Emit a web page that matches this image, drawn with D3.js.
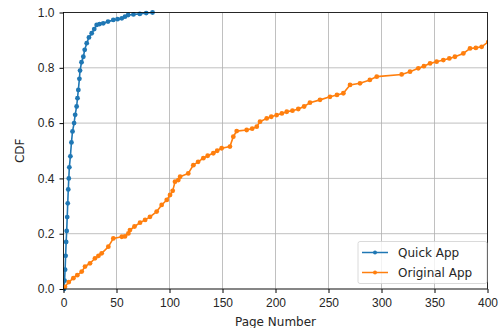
<!DOCTYPE html>
<html lang="en">
<head>
    <meta charset="UTF-8">
    <title>Page Number CDF</title>
    <script src="https://d3js.org/d3.v7.min.js"></script>
    <style>
        body {
            margin: 0;
            padding: 0;
            background: #fff;
            font-family: "DejaVu Sans", sans-serif;
        }
        .grid line {
            stroke: #b0b0b0;
            stroke-width: 0.8px;
        }
        .axis text {
            font-size: 12px;
            fill: #262626;
        }
        .axis path, .axis line {
            stroke: #000;
        }
    </style>
</head>
<body>
<script>
    // values
    const xTicks = [0, 50, 100, 150, 200, 250, 300, 350, 400];
    const yTicks = [0, 0.2, 0.4, 0.6, 0.8, 1.0];

    const quickPage = [0.5, 1, 1.5, 2, 2.5, 3, 3.5, 4, 4.5, 5, 5.5, 6.5, 7.5, 8.5, 10, 11, 12.4, 13.2, 14, 15, 15.6, 17, 18.7, 20, 21.9, 24, 26.6, 29, 31.3, 34, 37.5, 42, 47, 51, 55, 58, 61, 66, 72, 78, 84];
    const quickCdf  = [0, 0.03, 0.07, 0.12, 0.17, 0.21, 0.26, 0.31, 0.36, 0.40, 0.44, 0.48, 0.53, 0.57, 0.6, 0.63, 0.66, 0.69, 0.72, 0.76, 0.79, 0.82, 0.84, 0.865, 0.889, 0.91, 0.925, 0.94, 0.955, 0.958, 0.961, 0.967, 0.973, 0.976, 0.979, 0.985, 0.991, 0.993, 0.995, 0.998, 1.0];

    const origPage = [1.4, 5, 9.3, 13, 17.2, 20.3, 25, 29.7, 33, 36, 42.3, 47, 55, 58, 61.2, 62.7, 67, 72.2, 77, 81.6, 87.9, 92.6, 97.4, 100.5, 103, 105.2, 108.3, 110, 117.7, 122.5, 127, 131.9, 136, 141.3, 145, 149.2, 157, 160.2, 163.4, 172.8, 178, 182.3, 185.4, 191.7, 196, 201.1, 206, 210.6, 216, 221.5, 227, 232.5, 242, 251.4, 258, 264, 270.3, 279.7, 289, 295.5, 319, 326.9, 334.7, 340, 345.8, 352, 358.3, 364, 369.3, 377.2, 383.5, 389, 394.5, 400.8, 410];
    const origCdf  = [0.008, 0.025, 0.039, 0.05, 0.063, 0.081, 0.093, 0.111, 0.12, 0.129, 0.153, 0.183, 0.189, 0.19, 0.201, 0.213, 0.226, 0.24, 0.25, 0.261, 0.28, 0.304, 0.322, 0.34, 0.355, 0.388, 0.394, 0.406, 0.418, 0.448, 0.46, 0.473, 0.482, 0.491, 0.5, 0.509, 0.515, 0.551, 0.571, 0.575, 0.58, 0.587, 0.605, 0.617, 0.623, 0.629, 0.635, 0.641, 0.645, 0.651, 0.66, 0.674, 0.684, 0.695, 0.702, 0.708, 0.738, 0.744, 0.756, 0.768, 0.776, 0.786, 0.798, 0.806, 0.816, 0.822, 0.828, 0.834, 0.84, 0.852, 0.87, 0.872, 0.876, 0.894, 0.91];

    const seriesNames = ['Quick App', 'Original App'];
    const seriesColors = ['#1f77b4', '#ff7f0e'];

    const series = [
        { name: seriesNames[0], color: seriesColors[0], pts: quickPage.map((p, i) => [p, quickCdf[i]]) },
        { name: seriesNames[1], color: seriesColors[1], pts: origPage.map((p, i) => [p, origCdf[i]]) }
    ];

    const width = 500, height = 328;
    const margin = { left: 63.5, right: 12.5, top: 12.5, bottom: 39 };

    const svg = d3.select('body').append('svg')
        .attr('width', width)
        .attr('height', height);

    const x = d3.scaleLinear().domain([0, 400]).range([margin.left, width - margin.right]);
    const y = d3.scaleLinear().domain([0, 1]).range([height - margin.bottom, margin.top]);

    // grid
    const grid = svg.append('g').attr('class', 'grid');
    grid.selectAll('line.gx').data(xTicks).enter().append('line')
        .attr('x1', d => x(d)).attr('x2', d => x(d))
        .attr('y1', y(0)).attr('y2', y(1));
    grid.selectAll('line.gy').data(yTicks).enter().append('line')
        .attr('x1', x(0)).attr('x2', x(400))
        .attr('y1', d => y(d)).attr('y2', d => y(d));

    svg.append('clipPath').attr('id', 'clip')
        .append('rect')
        .attr('x', x(0)).attr('y', y(1) - 3)
        .attr('width', x(400) - x(0)).attr('height', y(0) - y(1) + 6);

    const line = d3.line().x(d => x(d[0])).y(d => y(d[1]));
    const plot = svg.append('g').attr('clip-path', 'url(#clip)');

    series.forEach(s => {
        plot.append('path')
            .datum(s.pts)
            .attr('fill', 'none')
            .attr('stroke', s.color)
            .attr('stroke-width', 1.6)
            .attr('d', line);
        plot.selectAll(null).data(s.pts).enter().append('circle')
            .attr('cx', d => x(d[0]))
            .attr('cy', d => y(d[1]))
            .attr('r', 2.4)
            .attr('fill', s.color);
    });

    // frame
    svg.append('rect')
        .attr('x', x(0)).attr('y', y(1))
        .attr('width', x(400) - x(0)).attr('height', y(0) - y(1))
        .attr('fill', 'none').attr('stroke', '#000').attr('stroke-width', 0.8);

    // axes
    svg.append('g').attr('class', 'axis')
        .attr('transform', `translate(0,${y(0)})`)
        .call(d3.axisBottom(x).tickValues(xTicks).tickSize(4).tickPadding(5).tickFormat(d3.format('d')))
        .call(g => g.select('.domain').remove());

    svg.append('g').attr('class', 'axis')
        .attr('transform', `translate(${x(0)},0)`)
        .call(d3.axisLeft(y).tickValues(yTicks).tickSize(4).tickPadding(5).tickFormat(d3.format('.1f')))
        .call(g => g.select('.domain').remove());

    svg.append('text')
        .attr('x', (x(0) + x(400)) / 2)
        .attr('y', 325.5)
        .attr('text-anchor', 'middle')
        .attr('font-size', '12px')
        .attr('fill', '#262626')
        .text('Page Number');

    svg.append('text')
        .attr('transform', `translate(24,${(y(0) + y(1)) / 2}) rotate(-90)`)
        .attr('text-anchor', 'middle')
        .attr('font-size', '12px')
        .attr('fill', '#262626')
        .text('CDF');

    // legend
    const lg = svg.append('g').attr('transform', 'translate(358,241.5)');
    lg.append('rect')
        .attr('width', 129).attr('height', 42).attr('rx', 2)
        .attr('fill', '#fff').attr('fill-opacity', 0.8)
        .attr('stroke', '#d0d0d0').attr('stroke-width', 0.8);
    series.forEach((s, i) => {
        const ly = 11 + i * 20;
        lg.append('line')
            .attr('x1', 4).attr('x2', 30).attr('y1', ly).attr('y2', ly)
            .attr('stroke', s.color).attr('stroke-width', 1.5);
        lg.append('circle').attr('cx', 17).attr('cy', ly).attr('r', 2).attr('fill', s.color);
        lg.append('text')
            .attr('x', 40).attr('y', ly + 4.3)
            .attr('font-size', '12px')
            .attr('fill', '#262626')
            .text(s.name);
    });
</script>
</body>
</html>
